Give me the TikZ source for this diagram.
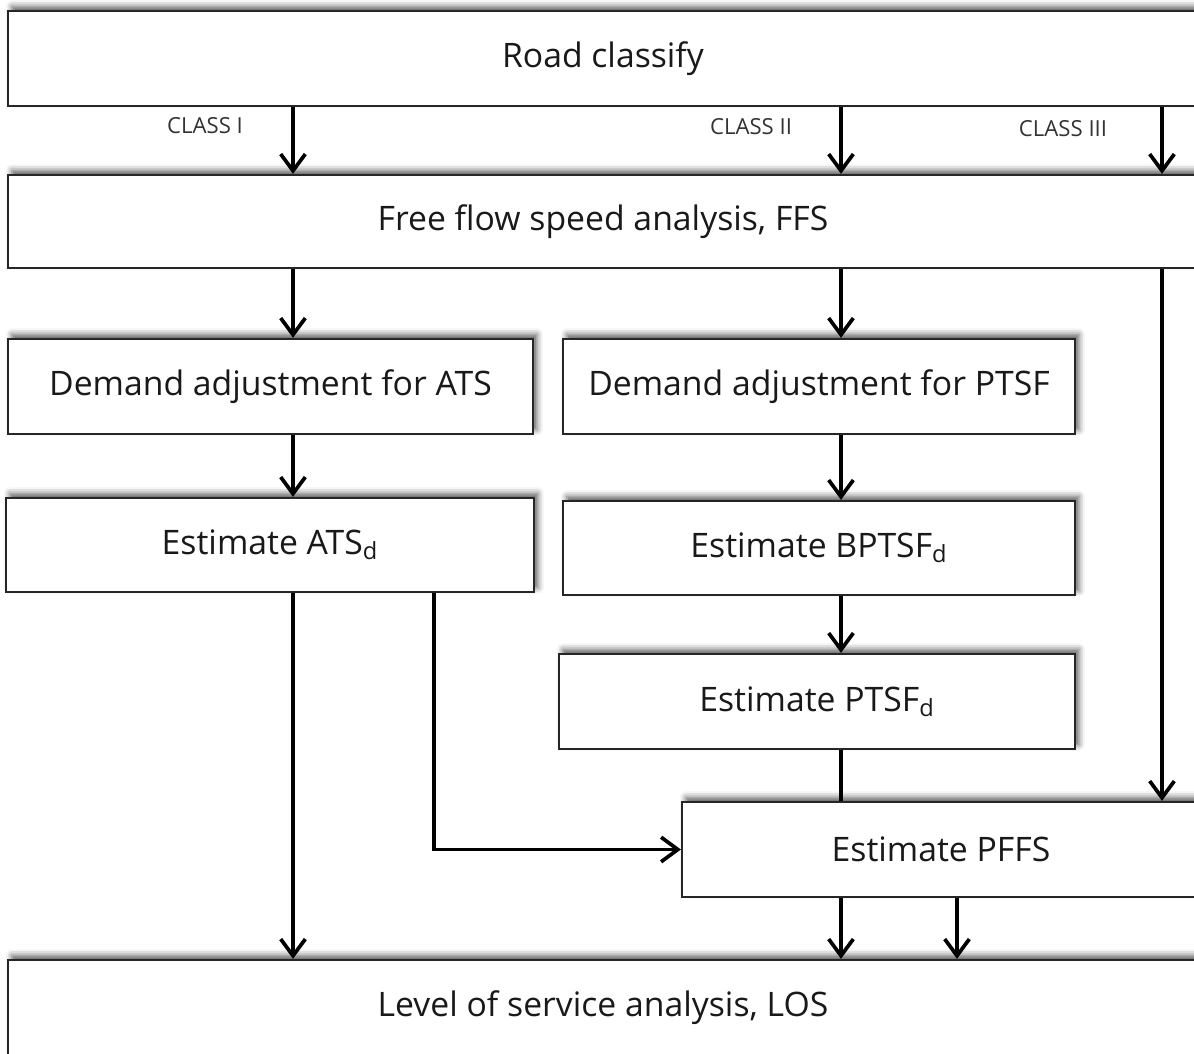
\documentclass[tikz,border=0pt]{standalone}
\usepackage{fontspec}
\setmainfont{Open Sans}
\usetikzlibrary{arrows.meta,shadows.blur}

\tikzset{
  box/.style={draw=black!85, line width=1.3pt, fill=white, inner sep=0pt,
    font=\fontsize{19.2}{23}\selectfont, text=black!90,
    blur shadow={shadow xshift=2.2pt, shadow yshift=2.6pt,
      shadow blur radius=3.5pt, shadow opacity=65}},
  arr/.style={line width=2.1pt, -{Straight Barb[length=9.5pt,width=14pt,line width=2.1pt]}},
  link/.style={line width=2.1pt},
  classlbl/.style={font=\fontsize{12.6}{14}\selectfont, text=black!80, inner sep=0pt}
}

\begin{document}
\begin{tikzpicture}[x=0.02cm, y=-0.02cm]
  \useasboundingbox (0,0) rectangle (1194,1054);
  \clip (0,0) rectangle (1194,1054);

  % process boxes
  \node[box, minimum width=23.8cm, minimum height=1.9cm] (road) at (603,58.5) {Road classify};
  \node[box, minimum width=23.8cm, minimum height=1.86cm] (ffs) at (603,221.5) {Free flow speed analysis, FFS};
  \node[box, minimum width=10.5cm, minimum height=1.9cm] (dats) at (270.5,386.5) {Demand adjustment for ATS};
  \node[box, minimum width=10.24cm, minimum height=1.9cm] (dptsf) at (819,386.5) {Demand adjustment for PTSF};
  \node[box, minimum width=10.56cm, minimum height=1.88cm] (eats) at (270,545) {Estimate ATS\textsubscript{d}};
  \node[box, minimum width=10.24cm, minimum height=1.88cm] (ebptsf) at (819,548) {Estimate BPTSF\textsubscript{d}};
  \node[box, minimum width=10.32cm, minimum height=1.9cm] (eptsf) at (817,701.5) {Estimate PTSF\textsubscript{d}};
  \node[box, minimum width=10.36cm, minimum height=1.9cm] (pffs) at (941,849.5) {Estimate PFFS};
  \node[box, minimum width=23.8cm, minimum height=1.92cm] (los) at (603,1008) {Level of service analysis, LOS};

  % connector columns
  \coordinate (xA) at (293,0);
  \coordinate (xB) at (841,0);
  \coordinate (xC) at (1162,0);
  \coordinate (xD) at (957,0);
  \coordinate (xE) at (434,0);

  % road classes
  \draw[arr] (xA |- road.south) -- (xA |- ffs.north);
  \draw[arr] (xB |- road.south) -- (xB |- ffs.north);
  \draw[arr] (xC |- road.south) -- (xC |- ffs.north);
  \node[classlbl] (c1) at (205,126) {CLASS I};
  \node[classlbl] (c2) at (751,127) {CLASS II};
  \node[classlbl] (c3) at (1063,129) {CLASS III};

  % ATS branch
  \draw[arr] (xA |- ffs.south) -- (xA |- dats.north);
  \draw[arr] (xA |- dats.south) -- (xA |- eats.north);
  \draw[arr] (xA |- eats.south) -- (xA |- los.north);
  \draw[arr] (xE |- eats.south) |- (pffs.west);

  % PTSF branch
  \draw[arr] (xB |- ffs.south) -- (xB |- dptsf.north);
  \draw[arr] (xB |- dptsf.south) -- (xB |- ebptsf.north);
  \draw[arr] (xB |- ebptsf.south) -- (xB |- eptsf.north);
  \draw[link] (xB |- eptsf.south) -- (xB |- pffs.north);

  % class III branch
  \draw[arr] (xC |- ffs.south) -- (xC |- pffs.north);

  % to level of service
  \draw[arr] (xB |- pffs.south) -- (xB |- los.north);
  \draw[arr] (xD |- pffs.south) -- (xD |- los.north);
\end{tikzpicture}
\end{document}
